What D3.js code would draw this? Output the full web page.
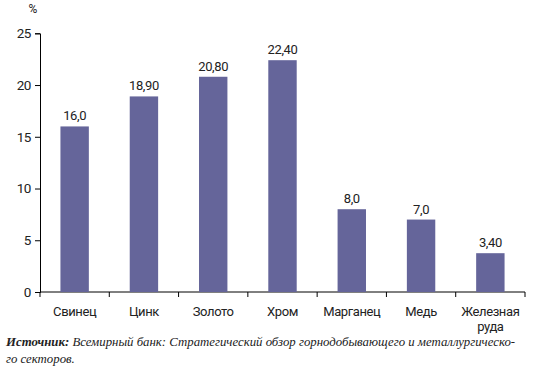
<!DOCTYPE html>
<html><head><meta charset="utf-8">
<script src="https://cdn.jsdelivr.net/npm/d3@7"></script>
<style>body{margin:0;background:#fff}</style>
</head><body>
<svg id="c" width="534" height="379"></svg>
<script>
const categories = ["Свинец","Цинк","Золото","Хром","Марганец","Медь","Железная руда"];
const values = [16.0, 18.9, 20.8, 22.4, 8.0, 7.0, 3.75];
const valueLabels = ["16,0","18,90","20,80","22,40","8,0","7,0","3,40"];
const yTicks = [0,5,10,15,20,25];

(function(){
const svg = d3.select("#c");
const font = "Roboto,'Liberation Sans',Arial,sans-serif";
const mLeft = 40, mRight = 525, mTop = 33.3, mBottom = 292;
const x = d3.scaleBand().domain(categories).range([mLeft, mRight]);
const y = d3.scaleLinear().domain([0,25]).range([mBottom, mTop]);

const yAxis = svg.append("g").attr("transform",`translate(${mLeft},0)`)
  .call(d3.axisLeft(y).tickValues(yTicks).tickSize(5).tickPadding(4).tickFormat(d3.format("d")));
yAxis.selectAll("text").attr("font-family",font).attr("font-size",13.5).attr("fill","#222").attr("letter-spacing",-0.4);
yAxis.select(".domain").attr("stroke","#000");

d3.range(categories.length+1).forEach(i=>{
  const xx = mLeft + i*x.step();
  svg.append("line").attr("x1",xx).attr("x2",xx).attr("y1",mBottom).attr("y2",mBottom+5).attr("stroke","#000");
});
svg.append("line").attr("x1",mLeft).attr("x2",mRight).attr("y1",mBottom).attr("y2",mBottom).attr("stroke","#000");

const bw = x.bandwidth()*0.41;
svg.append("g").selectAll("rect").data(categories).join("rect")
  .attr("x",(d)=>x(d)+x.bandwidth()/2-bw/2)
  .attr("y",(d,i)=>y(values[i]))
  .attr("width",bw)
  .attr("height",(d,i)=>mBottom-y(values[i]))
  .attr("fill","#65659a");

svg.append("g").selectAll("text").data(categories).join("text")
  .attr("x",d=>x(d)+x.bandwidth()/2)
  .attr("y",(d,i)=>y(values[i])-6)
  .attr("text-anchor","middle").attr("font-family",font).attr("font-size",13).attr("letter-spacing",-0.4).attr("fill","#222")
  .text((d,i)=>valueLabels[i]);

svg.append("g").selectAll("text").data(categories).join("text")
  .attr("x",d=>x(d)+x.bandwidth()/2)
  .attr("y",mBottom+24)
  .attr("text-anchor","middle").attr("font-family",font).attr("font-size",13).attr("letter-spacing",-0.4).attr("fill","#222")
  .each(function(d){
    const parts = d==="Железная руда" ? ["Железная","руда"] : [d];
    const t = d3.select(this);
    parts.forEach((p,j)=>t.append("tspan").attr("x",x(d)+x.bandwidth()/2).attr("dy",j?15:0).text(p));
  });

svg.append("text").attr("x",33).attr("y",13).attr("text-anchor","middle")
  .attr("font-family",font).attr("font-size",12).attr("fill","#222").text("%");

const src = svg.append("text").attr("font-family","'Liberation Serif','Times New Roman',serif")
  .attr("font-style","italic").attr("font-size",12.8).attr("fill","#222");
const l1 = src.append("tspan").attr("x",6).attr("y",346);
l1.append("tspan").attr("font-weight","bold").text("Источник:");
l1.append("tspan").text(" Всемирный банк: Стратегический обзор горнодобывающего и металлургическо-");
src.append("tspan").attr("x",6).attr("y",363).text("го секторов.");
})();
</script>
</body></html>
